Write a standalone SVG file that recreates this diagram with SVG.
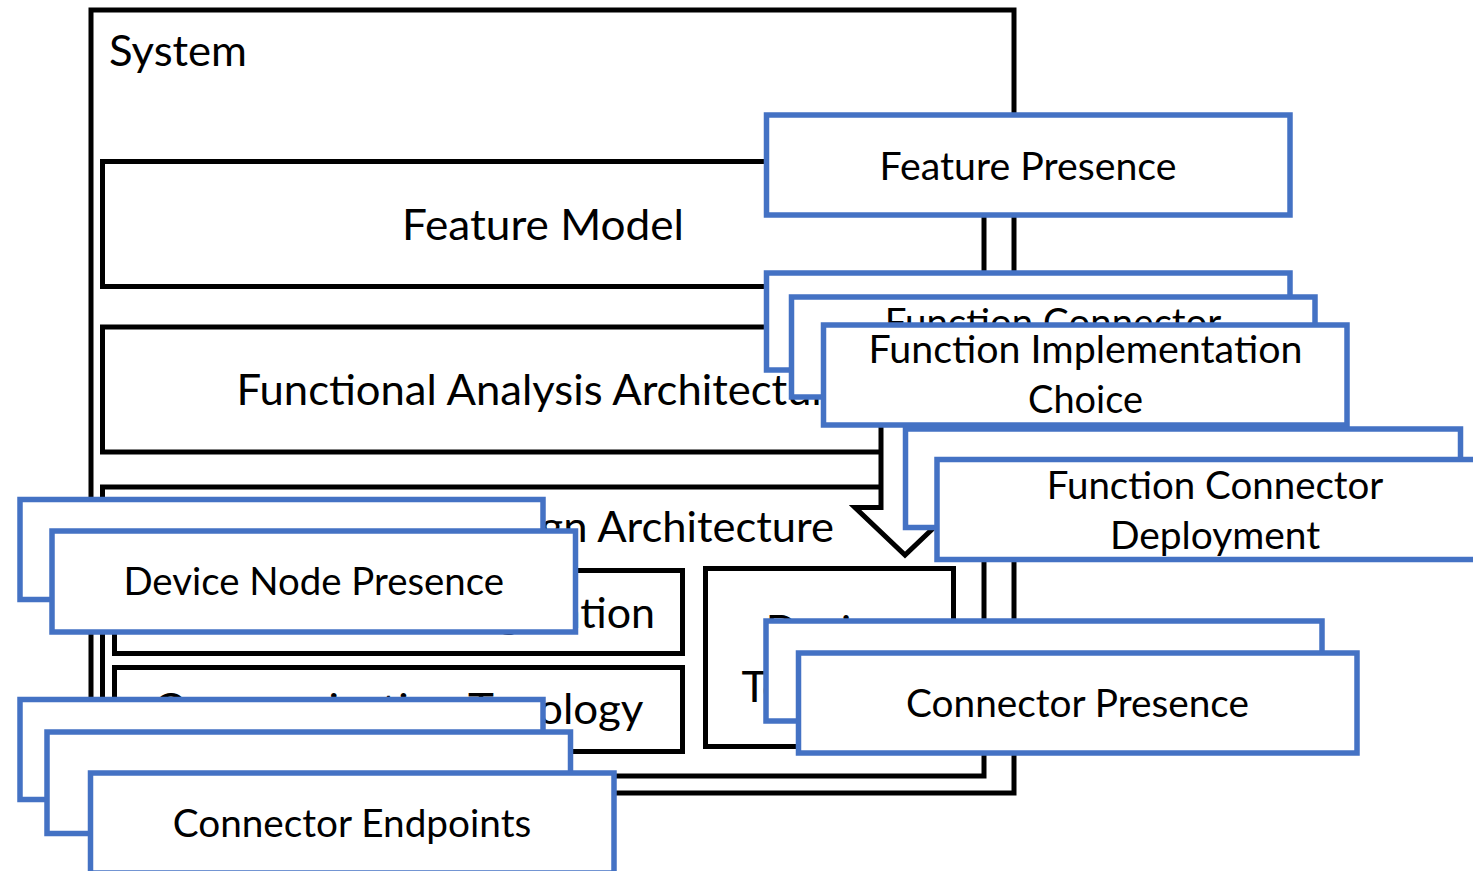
<svg xmlns="http://www.w3.org/2000/svg" width="1473" height="871" viewBox="0 0 1473 871">
<style>
.blk{fill:#fff;stroke:#000;stroke-width:5}
.blu{fill:#fff;stroke:#4472C4;stroke-width:5.5}
.t{font-family:Lato,Carlito,"Liberation Sans",sans-serif;fill:#000;text-anchor:middle}
.tb{font-size:42px}
.tl{font-size:37.8px}
</style>
<rect width="1473" height="871" fill="#fff"/>
<g id="system">
<rect class="blk" x="91" y="10" width="923" height="783"/>
<text class="t tb" x="109" y="65.5" style="text-anchor:start" textLength="138" lengthAdjust="spacingAndGlyphs">System</text>
</g>
<g id="feature-model">
<rect class="blk" x="102.5" y="161.5" width="881.5" height="125"/>
<text class="t tb" x="543" y="240" textLength="282" lengthAdjust="spacingAndGlyphs">Feature Model</text>
</g>
<g id="functional-analysis-architecture">
<rect class="blk" x="102.5" y="327" width="881.5" height="125"/>
<text class="t tb" x="543" y="404.5" textLength="613" lengthAdjust="spacingAndGlyphs">Functional Analysis Architecture</text>
</g>
<g id="design-architecture">
<rect class="blk" x="102.5" y="487" width="881.5" height="289"/>
<text class="t tb" x="545.7" y="542" textLength="576.5" lengthAdjust="spacingAndGlyphs">Hardware Design Architecture</text>
</g>
<g id="device-node-configuration">
<rect class="blk" x="114.5" y="570.5" width="568" height="83"/>
<text class="t tb" x="398.5" y="627.5" textLength="513" lengthAdjust="spacingAndGlyphs">Device Node Configuration</text>
</g>
<g id="communication-topology">
<rect class="blk" x="114.5" y="667.5" width="568" height="84"/>
<text class="t tb" x="398.5" y="724" textLength="490" lengthAdjust="spacingAndGlyphs">Communication Topology</text>
</g>
<g id="device-topology">
<rect class="blk" x="705.5" y="568.5" width="248" height="178"/>
<text class="t tb" x="829.5" y="646" textLength="127.6" lengthAdjust="spacingAndGlyphs">Device</text>
<text class="t tb" x="829.5" y="702" textLength="176" lengthAdjust="spacingAndGlyphs">Topology</text>
</g>
<g id="connectors">
<polygon class="blk" points="881,400 881,507.5 855,507.5 905,555 955,507.5 929,507.5 929,400" stroke-linejoin="miter"/>
</g>
<g id="feature-presence">
<rect class="blu" x="766.5" y="115" width="523.5" height="100"/>
<text class="t tl" x="1028" y="180" textLength="297" lengthAdjust="spacingAndGlyphs">Feature Presence</text>
</g>
<g id="function-connector-back">
<rect class="blu" x="766.5" y="273" width="523.5" height="97"/>
</g>
<g id="function-connector">
<rect class="blu" x="791.5" y="297" width="523.5" height="100"/>
<text class="t tl" x="1053" y="335.5" textLength="336.7" lengthAdjust="spacingAndGlyphs">Function Connector</text>
</g>
<g id="function-implementation-choice">
<rect class="blu" x="823.5" y="325" width="523.5" height="100"/>
<text class="t tl" x="1085.5" y="363" textLength="433.8" lengthAdjust="spacingAndGlyphs">Function Implementation</text>
<text class="t tl" x="1085.5" y="413" textLength="114.9" lengthAdjust="spacingAndGlyphs">Choice</text>
</g>
<g id="function-connector-deployment-back">
<rect class="blu" x="905.5" y="429" width="555" height="98.5"/>
</g>
<g id="function-connector-deployment">
<rect class="blu" x="937" y="459.5" width="556" height="100"/>
<text class="t tl" x="1215" y="499" textLength="336.7" lengthAdjust="spacingAndGlyphs">Function Connector</text>
<text class="t tl" x="1215" y="549" textLength="210.2" lengthAdjust="spacingAndGlyphs">Deployment</text>
</g>
<g id="device-node-presence-back">
<rect class="blu" x="20" y="499.5" width="523" height="100"/>
</g>
<g id="device-node-presence">
<rect class="blu" x="52" y="531" width="523.5" height="101"/>
<text class="t tl" x="313.75" y="595" textLength="380.6" lengthAdjust="spacingAndGlyphs">Device Node Presence</text>
</g>
<g id="connector-presence-back">
<rect class="blu" x="766" y="621" width="556" height="100"/>
</g>
<g id="connector-presence">
<rect class="blu" x="798.5" y="653" width="558.5" height="100"/>
<text class="t tl" x="1077.5" y="717" textLength="343" lengthAdjust="spacingAndGlyphs">Connector Presence</text>
</g>
<g id="connector-endpoints-back-1">
<rect class="blu" x="20" y="699.5" width="523" height="100"/>
</g>
<g id="connector-endpoints-back-2">
<rect class="blu" x="47" y="732" width="523.5" height="101.5"/>
</g>
<g id="connector-endpoints">
<rect class="blu" x="90.5" y="773" width="523.5" height="100"/>
<text class="t tl" x="352" y="837" textLength="358.6" lengthAdjust="spacingAndGlyphs">Connector Endpoints</text>
</g>
</svg>
